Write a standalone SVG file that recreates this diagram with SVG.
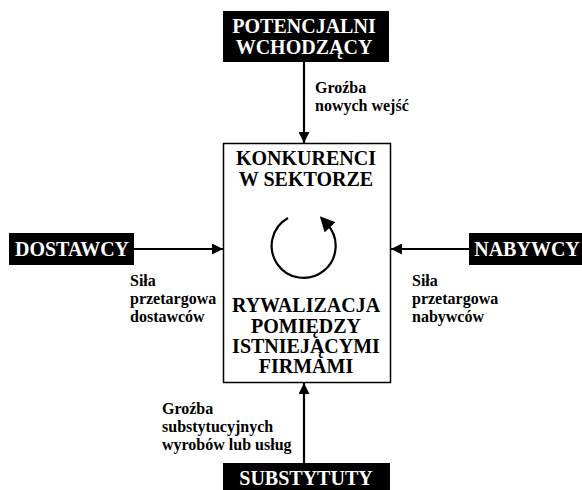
<svg xmlns="http://www.w3.org/2000/svg" width="582" height="490" viewBox="0 0 582 490">
<style>
.box{fill:#000;stroke:none}
.bt{fill:#fff;font-family:"Liberation Serif","Times New Roman",serif;font-weight:bold;font-size:20px;text-anchor:middle}
.ct{fill:#000;font-family:"Liberation Serif","Times New Roman",serif;font-weight:bold;font-size:20px;text-anchor:middle}
.lb{fill:#000;font-family:"Liberation Serif","Times New Roman",serif;font-weight:bold;font-size:16px}
.ln{stroke:#000;stroke-width:2.2;fill:none}
</style>
<defs>
<marker id="ah" viewBox="0 0 10 10" refX="10" refY="5" markerWidth="11" markerHeight="11" markerUnits="userSpaceOnUse" orient="auto">
<path d="M0,0 L10,5 L0,10 Z" fill="#000"/>
</marker>
<marker id="ah2" viewBox="0 0 10 10" refX="3" refY="5" markerWidth="15" markerHeight="15" markerUnits="userSpaceOnUse" orient="auto">
<path d="M0,0 L10,5 L0,10 Z" fill="#000"/>
</marker>
</defs>
<g id="connectors">
<line class="ln" x1="304" y1="62" x2="304" y2="143" marker-end="url(#ah)"/>
<line class="ln" x1="134" y1="249" x2="223" y2="249" marker-end="url(#ah)"/>
<line class="ln" x1="469" y1="249" x2="391" y2="249" marker-end="url(#ah)"/>
<line class="ln" x1="304" y1="463" x2="304" y2="383" marker-end="url(#ah)"/>
</g>
<g id="competitors">
<rect x="223.5" y="143.5" width="167" height="239" fill="#fff" stroke="#000" stroke-width="1.5"/>
<text class="ct" x="306" y="165">KONKURENCI</text>
<text class="ct" x="306" y="186">W SEKTORZE</text>
<path class="ln" d="M288,218 A32,32 0 1 0 327,224" marker-end="url(#ah2)"/>
<text class="ct" x="306" y="312">RYWALIZACJA</text>
<text class="ct" x="306" y="333">POMIĘDZY</text>
<text class="ct" x="306" y="353">ISTNIEJĄCYMI</text>
<text class="ct" x="306" y="373">FIRMAMI</text>
</g>
<g id="entrants">
<rect class="box" x="223" y="11" width="166" height="51"/>
<text class="bt" x="304" y="33">POTENCJALNI</text>
<text class="bt" x="304" y="54">WCHODZĄCY</text>
</g>
<g id="suppliers">
<rect class="box" x="9" y="233" width="125" height="32"/>
<text class="bt" x="72" y="256">DOSTAWCY</text>
</g>
<g id="buyers">
<rect class="box" x="469" y="233" width="120" height="32"/>
<text class="bt" x="527" y="256">NABYWCY</text>
</g>
<g id="substitutes">
<rect class="box" x="223" y="463" width="167" height="30"/>
<text class="bt" x="306" y="485">SUBSTYTUTY</text>
</g>
<g id="labels">
<text class="lb" x="315" y="93">Groźba</text>
<text class="lb" x="315" y="111">nowych wejść</text>
<text class="lb" x="130" y="286">Siła</text>
<text class="lb" x="130" y="304">przetargowa</text>
<text class="lb" x="130" y="322">dostawców</text>
<text class="lb" x="412" y="286">Siła</text>
<text class="lb" x="412" y="304">przetargowa</text>
<text class="lb" x="412" y="322">nabywców</text>
<text class="lb" x="162" y="414">Groźba</text>
<text class="lb" x="162" y="432">substytucyjnych</text>
<text class="lb" x="162" y="450">wyrobów lub usług</text>
</g>
</svg>
